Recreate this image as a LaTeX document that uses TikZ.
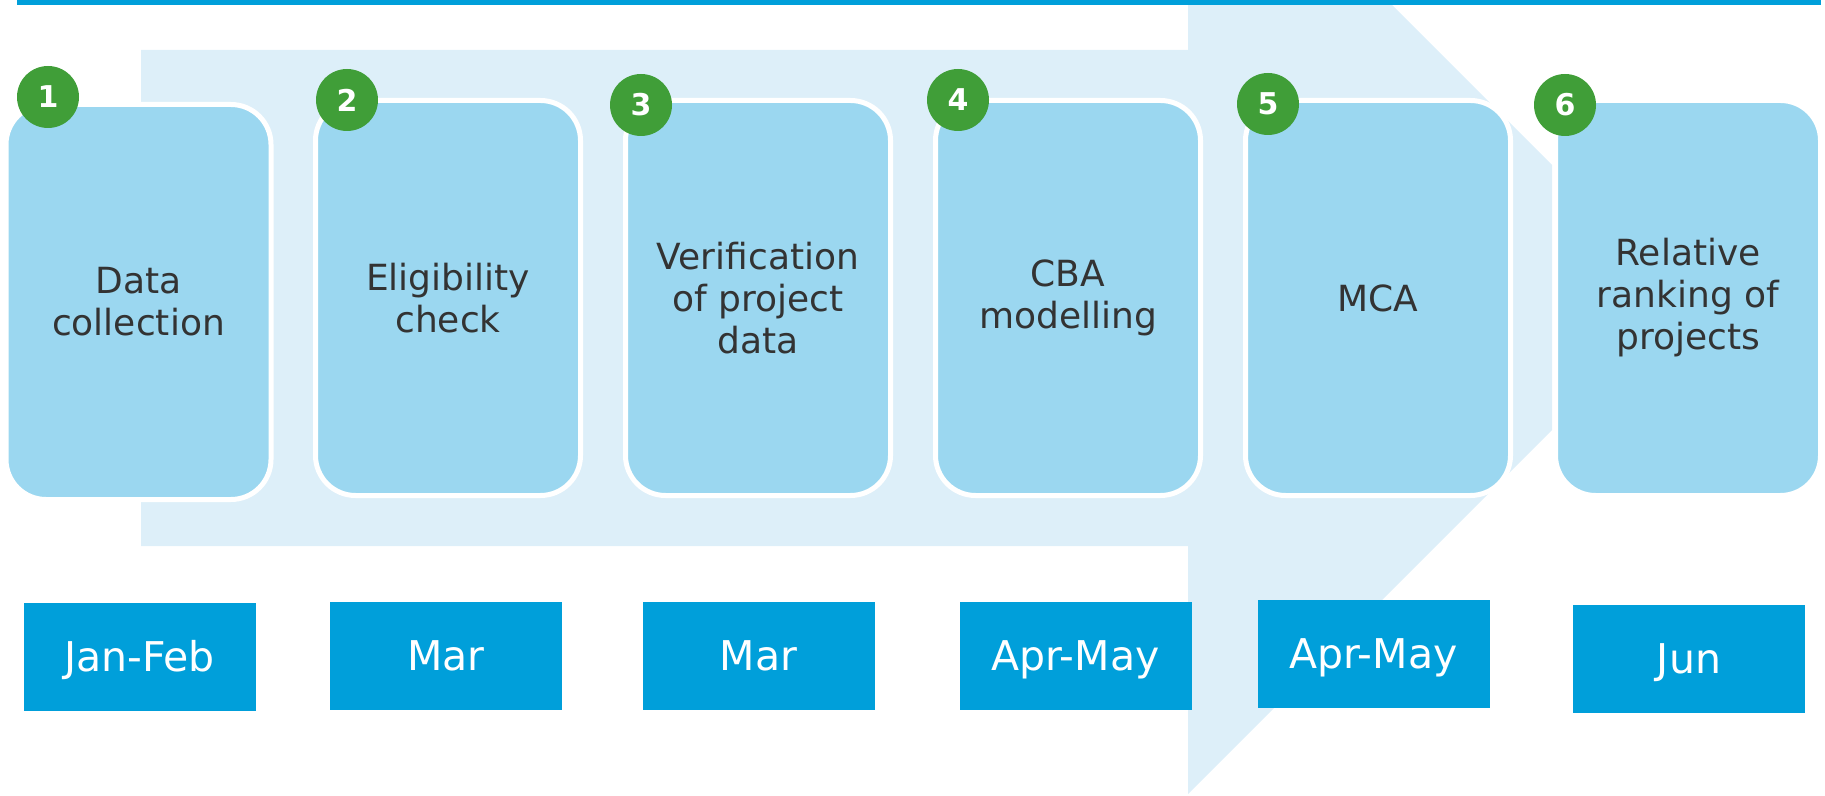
\documentclass[tikz,border=0pt]{standalone}
\usepackage{fontspec}
\setmainfont{DejaVu Sans}
\usepackage{tikz}

\definecolor{lineblue}{HTML}{009FDA}
\definecolor{arrowblue}{HTML}{DDEFF9}
\definecolor{stepblue}{HTML}{9BD7F0}
\definecolor{numgreen}{HTML}{409E38}
\definecolor{textgrey}{HTML}{333333}

\begin{document}
\begin{tikzpicture}[x=0.5pt,y=-0.5pt]
\tikzstyle{every node}=[font=\fontsize{18}{21}\selectfont]
\tikzstyle{stepbox}=[draw=white,line width=2.5pt,fill=stepblue,rounded corners=20pt,minimum width=132.5pt,minimum height=197.5pt,inner sep=0pt,align=center,text=textgrey]
\tikzstyle{numdot}=[circle,fill=numgreen,minimum size=31pt,inner sep=0pt,text=white,font=\fontsize{15}{15}\selectfont\bfseries]
\tikzstyle{datebox}=[fill=lineblue,minimum width=116pt,minimum height=54pt,inner sep=0pt,text=white,text height=14.5pt,text depth=0pt,font=\fontsize{20.5}{24}\selectfont]
\useasboundingbox (0,0) rectangle (1825,796);
% big arrow behind the steps
\fill[arrowblue](141,50)--(1188,50)--(1188,0)--(1387,0)--(1552,165)--(1552,430)--(1188,794)--(1188,546)--(141,546)--cycle;
\fill[lineblue](17,0) rectangle (1821,5);
% steps
\node[stepbox] (step1) at (138.5,302) {Data\\collection};
\node[stepbox] (step2) at (448,298) {Eligibility\\check};
\node[stepbox] (step3) at (758,298) {Verification\\of project\\data};
\node[stepbox] (step4) at (1068,298) {CBA\\modelling};
\node[stepbox] (step5) at (1378,298) {MCA};
\node[stepbox] (step6) at (1688,298) {Relative\\ranking of\\projects};
\node[numdot] (num1) at (48,97) {1};
\node[numdot] (num2) at (347,100) {2};
\node[numdot] (num3) at (641,105) {3};
\node[numdot] (num4) at (958,100) {4};
\node[numdot] (num5) at (1268,104) {5};
\node[numdot] (num6) at (1565,105) {6};
% months
\node[datebox] (date1) at (139.5,657) {Jan-Feb};
\node[datebox] (date2) at (446,656) {Mar};
\node[datebox] (date3) at (758.5,656) {Mar};
\node[datebox] (date4) at (1075.5,656) {Apr-May};
\node[datebox] (date5) at (1373.5,654) {Apr-May};
\node[datebox] (date6) at (1689,659) {Jun};
\end{tikzpicture}
\end{document}
